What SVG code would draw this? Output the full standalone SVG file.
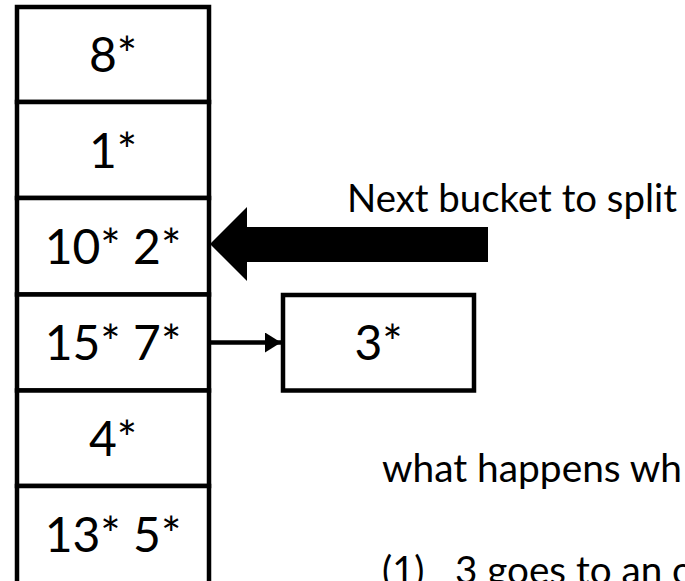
<svg xmlns="http://www.w3.org/2000/svg" width="685" height="581" viewBox="0 0 685 581">
  <style>
    .box { fill: #ffffff; stroke: #000000; stroke-width: 4.5; }
    .cell { font-family: Lato, "Open Sans", "Liberation Sans", sans-serif; font-size: 48px; fill: #000000; text-anchor: middle; }
    .label { font-family: Lato, "Open Sans", "Liberation Sans", sans-serif; font-size: 38px; fill: #000000; }
    .link { stroke: #000000; stroke-width: 4.5; fill: none; }
  </style>
  <defs>
    <marker id="head" viewBox="0 0 16 20" refX="16" refY="10" markerWidth="16" markerHeight="20" markerUnits="userSpaceOnUse" orient="auto">
      <path d="M0,0 L16,10 L0,20 Z" fill="#000000"/>
    </marker>
  </defs>

  <rect width="685" height="581" fill="#ffffff"/>

  <!-- hash directory buckets -->
  <g id="bucket-0">
    <rect class="box" x="17" y="7" width="192" height="95"/>
    <text class="cell" x="113" y="72">8*</text>
  </g>
  <g id="bucket-1">
    <rect class="box" x="17" y="102" width="192" height="96"/>
    <text class="cell" x="113" y="168">1*</text>
  </g>
  <g id="bucket-2">
    <rect class="box" x="17" y="198" width="192" height="96.5"/>
    <text class="cell" x="113" y="264">10* 2*</text>
  </g>
  <g id="bucket-3">
    <rect class="box" x="17" y="294.5" width="192" height="96"/>
    <text class="cell" x="113" y="360">15* 7*</text>
  </g>
  <g id="bucket-4">
    <rect class="box" x="17" y="390.5" width="192" height="95.5"/>
    <text class="cell" x="113" y="456">4*</text>
  </g>
  <g id="bucket-5">
    <rect class="box" x="17" y="486" width="192" height="120"/>
    <text class="cell" x="113" y="552">13* 5*</text>
  </g>

  <!-- overflow page -->
  <g id="overflow">
    <rect class="box" x="283" y="295" width="191" height="95.5"/>
    <text class="cell" x="378.5" y="360">3*</text>
  </g>

  <!-- split pointer -->
  <g id="split-pointer">
    <polygon points="210,244 247,207 247,227 488,227 488,262 247,262 247,281" fill="#000000"/>
    <text class="label" x="347" y="212" textLength="330" lengthAdjust="spacingAndGlyphs">Next bucket to split</text>
  </g>

  <g id="connectors">
    <line class="link" x1="211" y1="342.5" x2="281" y2="342.5" marker-end="url(#head)"/>
  </g>

  <g id="notes">
    <text class="label" x="382" y="482" textLength="300" lengthAdjust="spacingAndGlyphs">what happens wh</text>
    <text class="label" x="382" y="584">(1)</text>
    <text class="label" x="455" y="584" textLength="239" lengthAdjust="spacingAndGlyphs">3 goes to an o</text>
  </g>
</svg>
